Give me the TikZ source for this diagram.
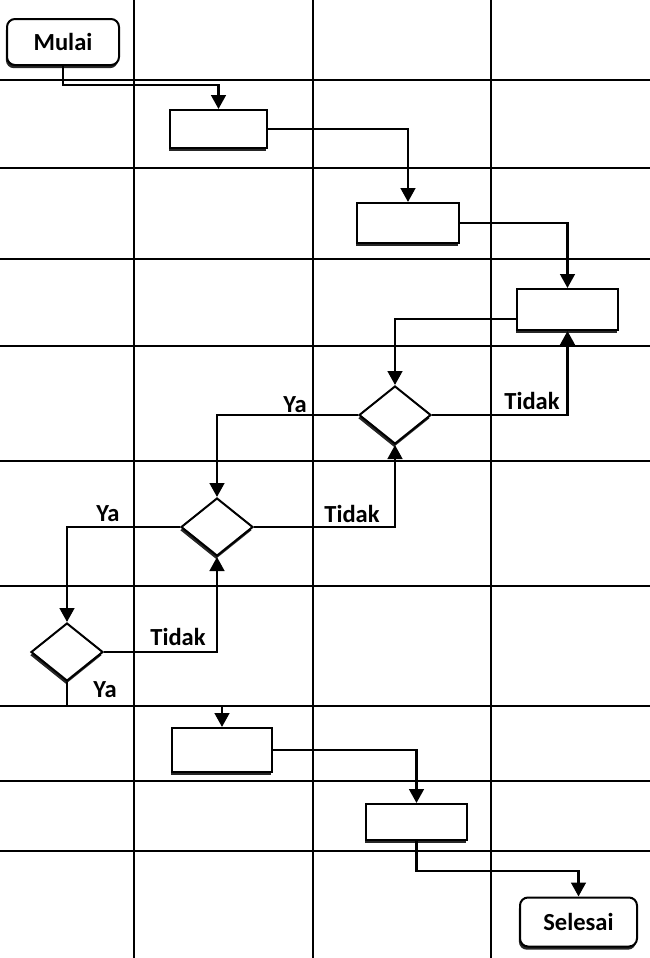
\documentclass[tikz,border=0pt]{standalone}
\usepackage{fontspec}
\setmainfont{Carlito}
\usetikzlibrary{arrows.meta,shapes.geometric,shadows}
\begin{document}
\begin{tikzpicture}[x=0.75pt,y=-0.75pt,
  gridline/.style={line width=1.7pt,black},
  conn/.style={line width=1.9pt,-{Triangle[length=10.5pt,width=11pt]}},
  shad/.style={drop shadow={shadow xshift=-0.8pt,shadow yshift=-2.4pt,opacity=1,fill=black!85}},
  procbox/.style={draw,line width=1.5pt,fill=white,rectangle,inner sep=0pt,shad},
  termbox/.style={draw,line width=1.5pt,fill=white,rectangle,rounded corners=6pt,inner sep=0pt,shad,font=\fontsize{18.4}{22}\selectfont\bfseries},
  decbox/.style={draw,line width=1.5pt,fill=white,diamond,inner sep=0pt,minimum width=54pt,minimum height=43.5pt,shad},
  lbl/.style={font=\fontsize{18.4}{22}\selectfont\bfseries,inner sep=0pt}
]
\useasboundingbox (0,0) rectangle (650,958);
% grid
\foreach \gx in {134,313,491} \draw[gridline] (\gx,0) -- (\gx,958);
\foreach \gy in {80,168,259,346,461,586,706,781,851} \draw[gridline] (0,\gy) -- (650,\gy);
% nodes
\node[termbox,minimum width=84pt,minimum height=34.5pt] (mulai) at (63,42) {Mulai};
\node[procbox,minimum width=72.75pt,minimum height=28.5pt] (b1) at (218.5,129) {};
\node[procbox,minimum width=76.5pt,minimum height=30pt] (b2) at (408,223) {};
\node[procbox,minimum width=75.75pt,minimum height=30.75pt] (b3) at (567.5,309.5) {};
\node[decbox] (d1) at (395,415) {};
\node[decbox] (d2) at (217,527) {};
\node[decbox] (d3) at (67,652) {};
\node[procbox,minimum width=75pt,minimum height=33pt] (b4) at (222,750) {};
\node[procbox,minimum width=75.75pt,minimum height=27pt] (b5) at (416.5,822) {};
\node[termbox,minimum width=87.75pt,minimum height=36.75pt] (sel) at (578.5,922) {Selesai};
% connectors
\draw[conn] (mulai.south) -- ++(0,19) -| (b1.north);
\draw[conn] (b1.east) -| (b2.north);
\draw[conn] (b2.east) -| (b3.north);
\draw[conn] ([yshift=-7pt]b3.west) -| (d1.north);
\draw[conn] (d1.east) -| (b3.south);
\draw[conn] (d1.west) -| (d2.north);
\draw[conn] (d2.east) -| (d1.south);
\draw[conn] (d2.west) -| (d3.north);
\draw[conn] (d3.east) -| (d2.south);
\draw[conn] (d3.south) -- ++(0,24) -| (b4.north);
\draw[conn] (b4.east) -| (b5.north);
\draw[conn] (b5.south) -- ++(0,30) -| (sel.north);
% labels
\node[lbl] (l1) at (295,405) {Ya};
\node[lbl] (l2) at (532,401) {Tidak};
\node[lbl] (l3) at (352,514) {Tidak};
\node[lbl] (l4) at (108,514) {Ya};
\node[lbl] (l5) at (178,637) {Tidak};
\node[lbl] (l6) at (105,690) {Ya};
\end{tikzpicture}
\end{document}
